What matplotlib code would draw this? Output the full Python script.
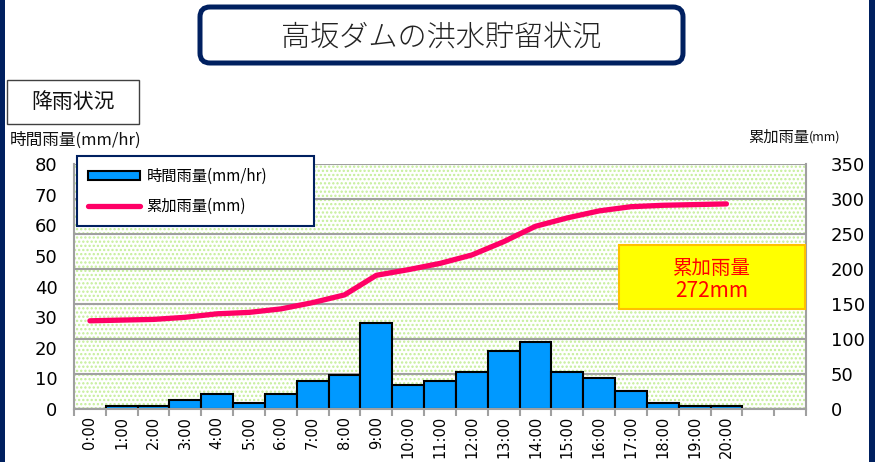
import numpy as np
import matplotlib
matplotlib.use('Agg')
import matplotlib.pyplot as plt
from matplotlib.patches import Rectangle, FancyBboxPatch
from matplotlib.lines import Line2D
from matplotlib.transforms import IdentityTransform

plt.rcParams['font.family'] = ['DejaVu Sans', 'Noto Sans CJK JP']
plt.rcParams['hatch.linewidth'] = 1.1
jp = ['Noto Sans CJK JP', 'DejaVu Sans']

# データ
hours = ['0:00', '1:00', '2:00', '3:00', '4:00', '5:00', '6:00', '7:00', '8:00', '9:00',
         '10:00', '11:00', '12:00', '13:00', '14:00', '15:00', '16:00', '17:00', '18:00',
         '19:00', '20:00', '', '']
hourly = [0, 1, 1, 3, 5, 2, 5, 9, 11, 28, 8, 9, 12, 19, 22, 12, 10, 6, 2, 1, 1, 0, 0]
cumul = [126, 127, 128, 131, 136, 138, 143, 152, 163, 191, 199, 208, 220, 239, 261,
         273, 283, 289, 291, 292, 293]
left_ticks = [0, 10, 20, 30, 40, 50, 60, 70, 80]
right_ticks = [0, 50, 100, 150, 200, 250, 300, 350]
total_text = '272mm'

navy = '#002060'
grey = '#a0a0a0'

fig = plt.figure(figsize=(8.75, 4.62), dpi=100)

# 外枠(左右の紺色の線)
fig.add_artist(Rectangle((0, 0), 5 / 875, 1, transform=fig.transFigure,
                         facecolor=navy, edgecolor='none'))
fig.add_artist(Rectangle((869 / 875, 0), 6 / 875, 1, transform=fig.transFigure,
                         facecolor=navy, edgecolor='none'))

# タイトル
fig.add_artist(FancyBboxPatch((200, 462 - 63), 483, 56,
                              boxstyle='round,pad=0,rounding_size=10',
                              transform=IdentityTransform(),
                              facecolor='white', edgecolor=navy, linewidth=3.6))
fig.text(441 / 875, 1 - 38 / 462, '高坂ダムの洪水貯留状況', family=jp, fontsize=21,
         ha='center', va='center', color='#222222', fontweight='light')

# 降雨状況
fig.add_artist(Rectangle((7 / 875, 1 - 124 / 462), 132 / 875, 44 / 462,
                         transform=fig.transFigure, facecolor='white',
                         edgecolor='#404040', linewidth=1.0))
fig.text(73 / 875, 1 - 102 / 462, '降雨状況', family=jp, fontsize=15,
         ha='center', va='center', color='#111111')

ax = fig.add_axes([74 / 875, 53 / 462, 732 / 875, 245 / 462])
x = np.arange(len(hours))
ax.set_xlim(-0.5, len(hours) - 0.5)
ax.set_ylim(0, 80)

# 背景の点模様
ax.add_patch(Rectangle((0, 0), 1, 1, transform=ax.transAxes, facecolor='white',
                       edgecolor='#c4ee98', hatch='....', linewidth=0, zorder=0))

# 目盛線(右軸基準)
for v in right_ticks:
    ax.axhline(v * 80 / 350, color=grey, linewidth=1.5, zorder=1)

ax.bar(x, hourly, width=1.0, color='#0099ff', edgecolor='black', linewidth=1.5,
       zorder=2, label='時間雨量(mm/hr)')

ax.set_yticks(left_ticks)
ax.set_xticks(x)
ax.set_xticklabels(hours, rotation=90, fontsize=10.5)
ax.set_xticks(np.arange(len(hours) + 1) - 0.5, minor=True)
ax.tick_params(axis='x', which='major', length=0, pad=5)
ax.tick_params(axis='x', which='minor', length=5, color=grey, width=1.5)
ax.tick_params(axis='y', length=0, labelsize=13, pad=12)
for s in ['left', 'bottom', 'right']:
    ax.spines[s].set_color(grey)
    ax.spines[s].set_linewidth(1.5)
ax.spines['top'].set_visible(False)

ax2 = ax.twinx()
ax2.set_ylim(0, 350)
ax2.set_yticks(right_ticks)
ax2.tick_params(axis='y', length=0, labelsize=13, pad=18)
ax2.plot(x[:len(cumul)], cumul, color='#ff0066', linewidth=3.8,
         solid_capstyle='round', solid_joinstyle='round', label='累加雨量(mm)', zorder=3)
for s in ax2.spines.values():
    s.set_visible(False)

# 凡例
h1 = Rectangle((0, 0), 1, 1, facecolor='#0099ff', edgecolor='black', linewidth=1.5)
h2 = Line2D([], [], color='#ff0066', linewidth=3.8, solid_capstyle='round')
leg = ax2.legend([h1, h2], ['時間雨量(mm/hr)', '累加雨量(mm)'],
                 loc='upper left', bbox_to_anchor=(77 / 875, 1 - 161 / 462, 237 / 875, 0.01),
                 bbox_transform=fig.transFigure, mode='expand', borderaxespad=0,
                 prop={'family': jp, 'size': 11}, frameon=True, fancybox=False,
                 handlelength=3.4, handleheight=0.45, handletextpad=0.4,
                 labelspacing=0.85, borderpad=0.75)
leg.get_frame().set_edgecolor(navy)
leg.get_frame().set_linewidth(1.5)
leg.get_frame().set_alpha(1)
leg.set_zorder(10)

# 軸ラベル
fig.text(10 / 875, 1 - 140 / 462, '時間雨量(mm/hr)', family=jp, fontsize=12,
         ha='left', va='center', color='#111111')
fig.text(748 / 875, 1 - 137 / 462, '累加雨量', family=jp, fontsize=11,
         ha='left', va='center', color='#111111')
fig.text(809 / 875, 1 - 137 / 462, '(mm)', family=jp, fontsize=9,
         ha='left', va='center', color='#111111')

# 累加雨量の表示
fig.add_artist(Rectangle((619 / 875, 1 - 309 / 462), 186 / 875, 64 / 462,
                         transform=fig.transFigure, facecolor='#ffff00',
                         edgecolor='#ffc000', linewidth=1.5))
fig.text(712 / 875, 1 - 268 / 462, '累加雨量', family=jp, fontsize=14,
         ha='center', va='center', color='#ff0000')
fig.text(712 / 875, 1 - 291 / 462, total_text, family=jp, fontsize=15,
         ha='center', va='center', color='#ff0000')

fig.savefig('out.png', dpi=100)
